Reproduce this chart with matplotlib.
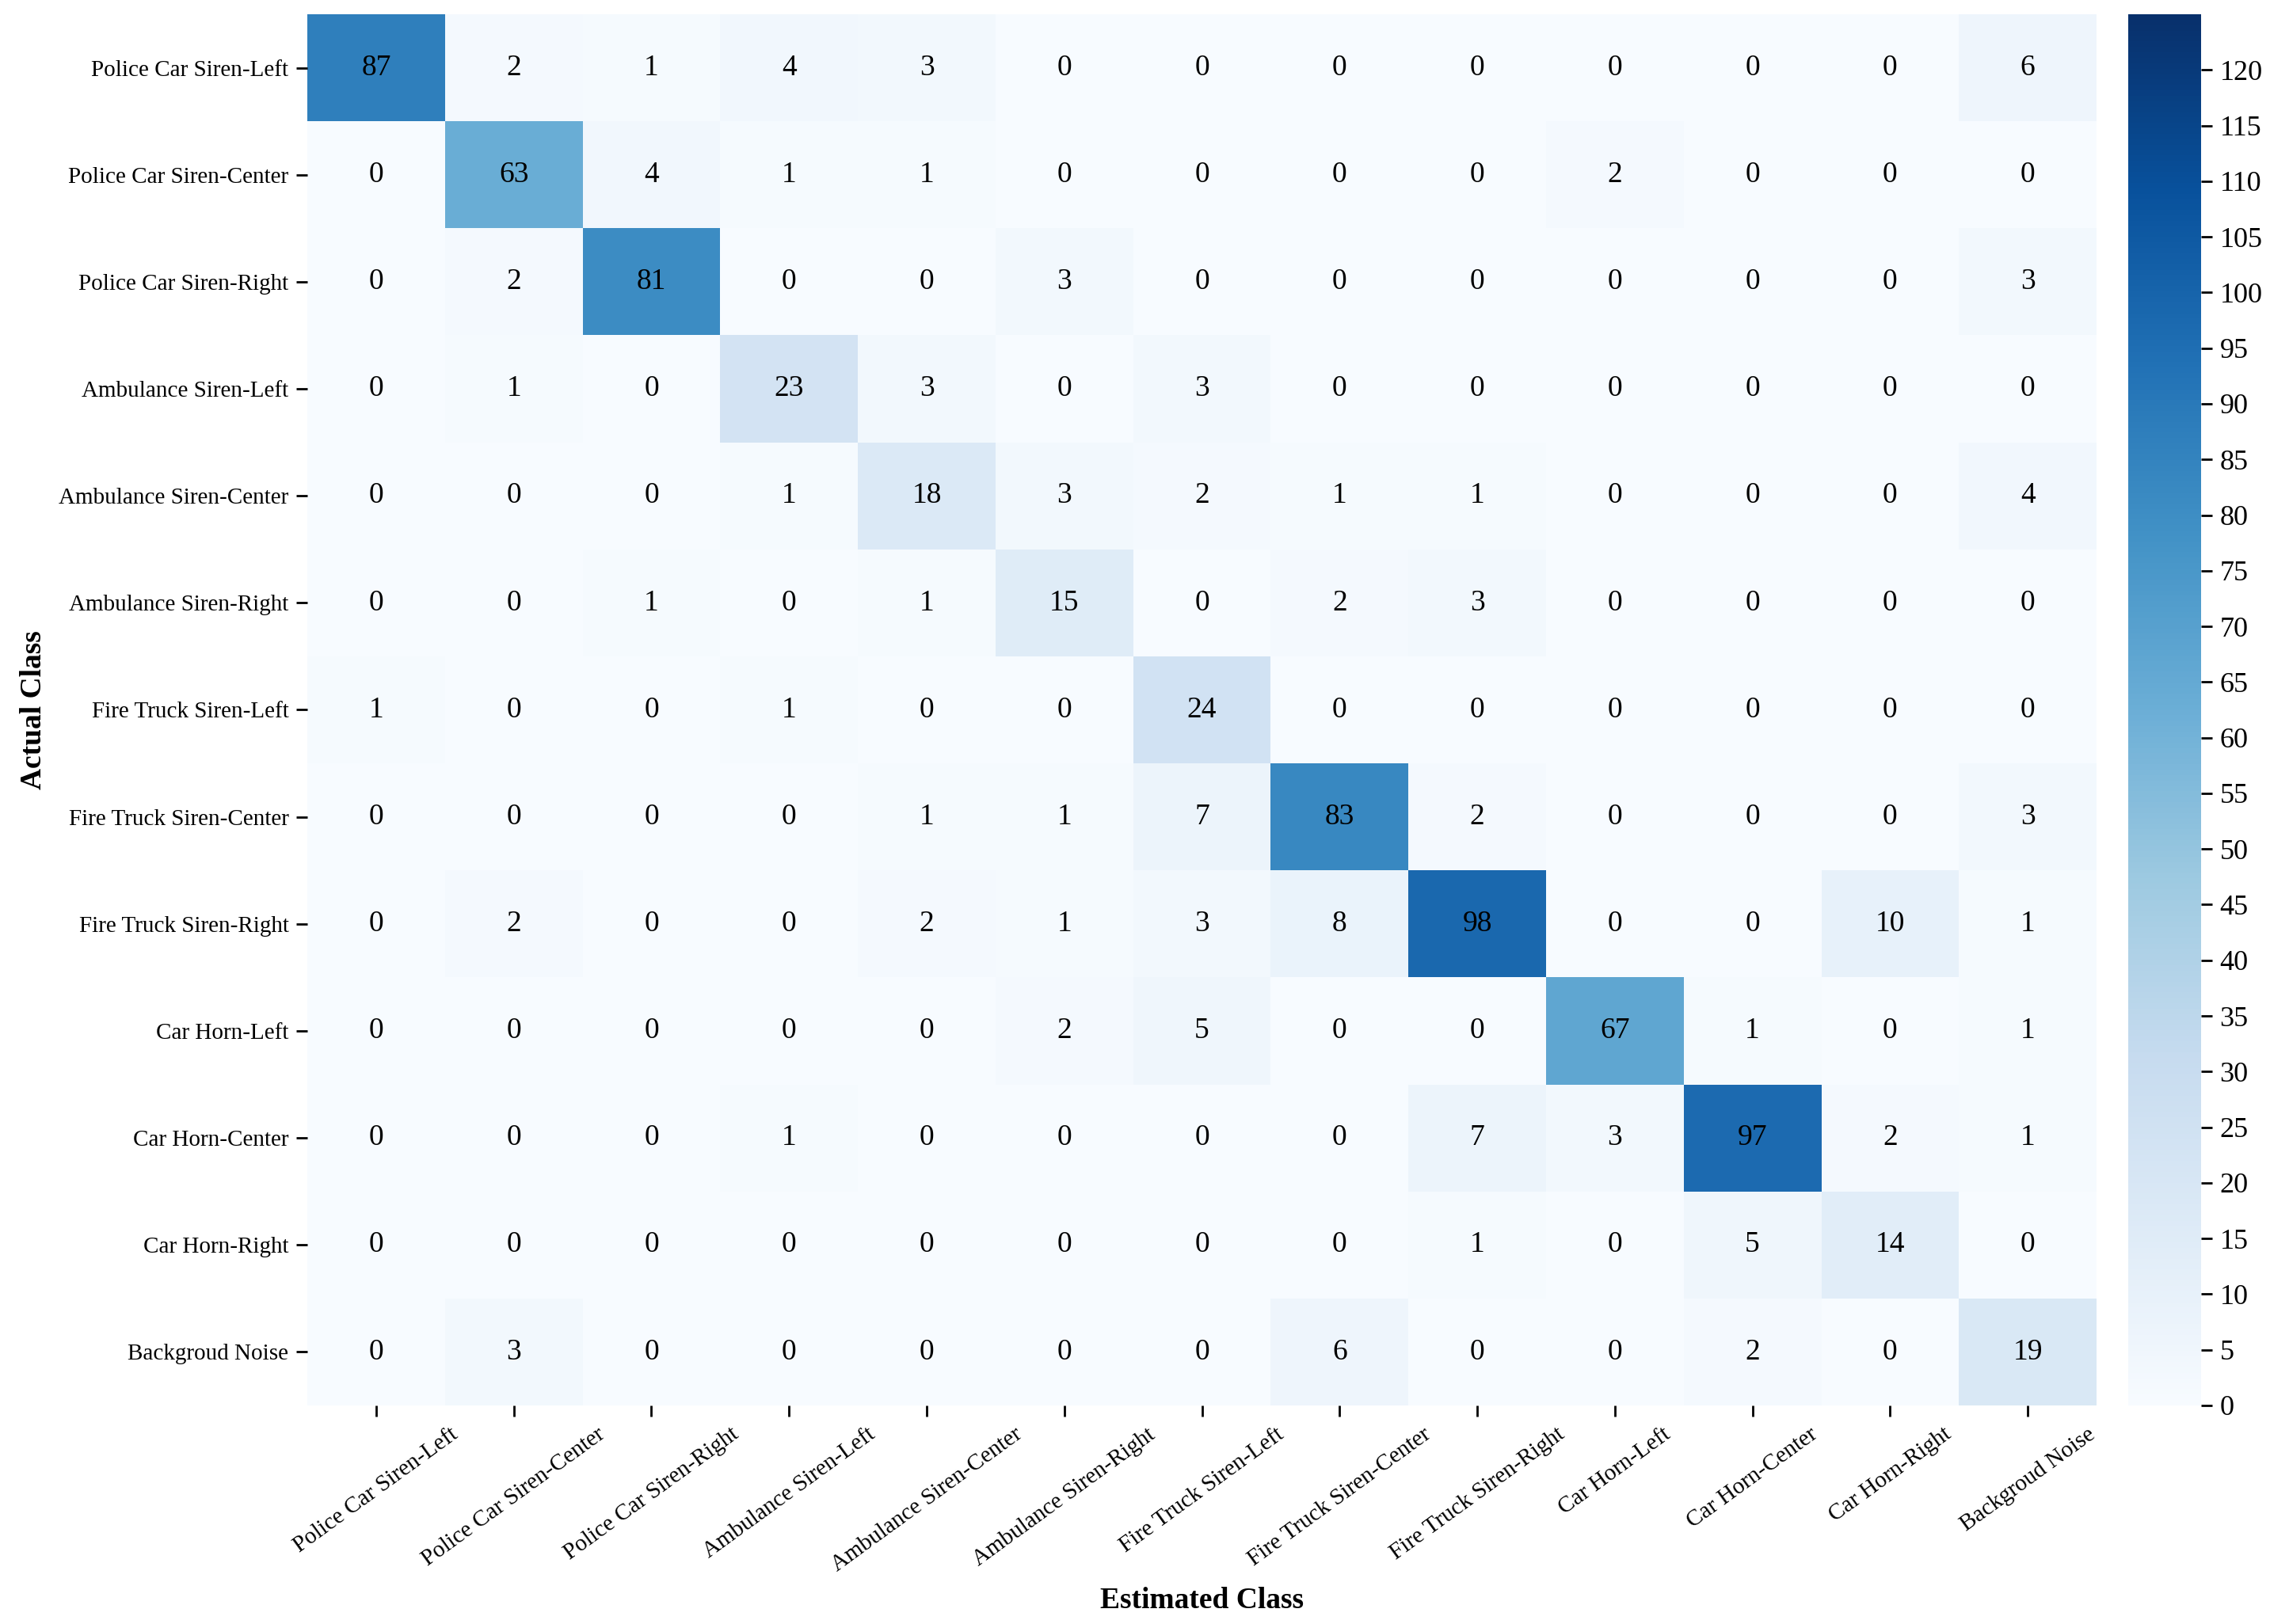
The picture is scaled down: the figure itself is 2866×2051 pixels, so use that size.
import matplotlib
matplotlib.use('Agg')
import matplotlib.pyplot as plt
import numpy as np

plt.rcParams['font.family'] = ['Liberation Serif', 'DejaVu Serif']

# class names (same order on both axes)
classes = ['Police Car Siren-Left', 'Police Car Siren-Center', 'Police Car Siren-Right',
           'Ambulance Siren-Left', 'Ambulance Siren-Center', 'Ambulance Siren-Right',
           'Fire Truck Siren-Left', 'Fire Truck Siren-Center', 'Fire Truck Siren-Right',
           'Car Horn-Left', 'Car Horn-Center', 'Car Horn-Right', 'Backgroud Noise']

# rows = actual class, columns = estimated class
conf_matrix = [
    [87, 2, 1, 4, 3, 0, 0, 0, 0, 0, 0, 0, 6],
    [0, 63, 4, 1, 1, 0, 0, 0, 0, 2, 0, 0, 0],
    [0, 2, 81, 0, 0, 3, 0, 0, 0, 0, 0, 0, 3],
    [0, 1, 0, 23, 3, 0, 3, 0, 0, 0, 0, 0, 0],
    [0, 0, 0, 1, 18, 3, 2, 1, 1, 0, 0, 0, 4],
    [0, 0, 1, 0, 1, 15, 0, 2, 3, 0, 0, 0, 0],
    [1, 0, 0, 1, 0, 0, 24, 0, 0, 0, 0, 0, 0],
    [0, 0, 0, 0, 1, 1, 7, 83, 2, 0, 0, 0, 3],
    [0, 2, 0, 0, 2, 1, 3, 8, 98, 0, 0, 10, 1],
    [0, 0, 0, 0, 0, 2, 5, 0, 0, 67, 1, 0, 1],
    [0, 0, 0, 1, 0, 0, 0, 0, 7, 3, 97, 2, 1],
    [0, 0, 0, 0, 0, 0, 0, 0, 1, 0, 5, 14, 0],
    [0, 3, 0, 0, 0, 0, 0, 6, 0, 0, 2, 0, 19],
]

vmin, vmax = 0, 125
cbar_ticks = list(range(0, 121, 5))

cm = np.array(conf_matrix)
n = len(classes)

fig = plt.figure(figsize=(14.33, 10.255), dpi=200)
ax = fig.add_axes([0.1354, 0.1346, 0.7882, 0.8566])
cax = fig.add_axes([0.9375, 0.1346, 0.0321, 0.8566])

mesh = ax.pcolormesh(cm, cmap='Blues', vmin=vmin, vmax=vmax)
ax.set_xlim(0, n)
ax.set_ylim(n, 0)
for s in ax.spines.values():
    s.set_visible(False)

# cell annotations
for i in range(n):
    for j in range(n):
        ax.text(j + 0.5, i + 0.5, str(cm[i, j]), ha='center', va='center',
                fontsize=13.5, color='black')

ax.set_xticks(np.arange(n) + 0.5)
ax.set_yticks(np.arange(n) + 0.5)
ax.set_xticklabels(classes, rotation=36, ha='center', fontsize=10.5)
ax.set_yticklabels(classes, rotation=0, fontsize=10.5)
ax.tick_params(axis='both', length=5, width=1)

ax.set_xlabel('Estimated Class', fontsize=13.5, fontweight='bold', labelpad=5)
ax.set_ylabel('Actual Class', fontsize=13.5, fontweight='bold', labelpad=5)

cb = fig.colorbar(mesh, cax=cax, ticks=cbar_ticks)
cb.outline.set_linewidth(0)
cb.ax.tick_params(labelsize=13, length=5, width=1)

fig.savefig('out.png', dpi=200)
